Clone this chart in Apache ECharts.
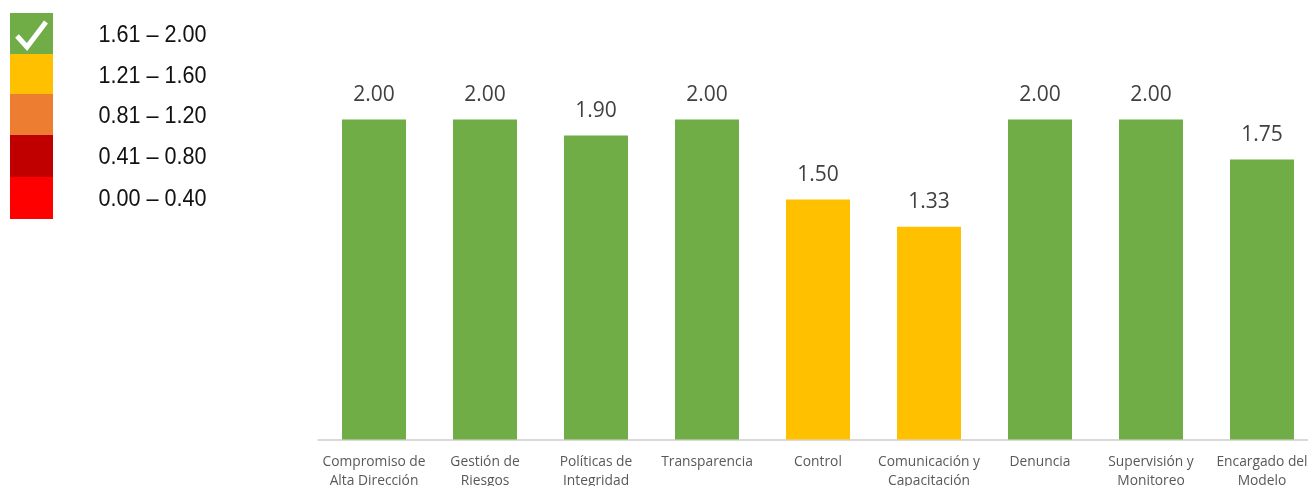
<!DOCTYPE html>
<html>
<head>
<meta charset="utf-8">
<style>
  html, body { margin: 0; padding: 0; background: #fff; }
  #chart { width: 1308px; height: 486px; }
</style>
<script src="https://cdn.jsdelivr.net/npm/echarts@6/dist/echarts.min.js"></script>
</head>
<body>
<div id="chart"></div>
<script>
const categories = [
  "Compromiso de\nAlta Dirección", "Gestión de\nRiesgos", "Políticas de\nIntegridad",
  "Transparencia", "Control", "Comunicación y\nCapacitación",
  "Denuncia", "Supervisión y\nMonitoreo", "Encargado del\nModelo"
];
const scores = [2.0, 2.0, 1.9, 2.0, 1.5, 1.33, 2.0, 2.0, 1.75];

const rangeLabels = ["1.61 – 2.00", "1.21 – 1.60", "0.81 – 1.20", "0.41 – 0.80", "0.00 – 0.40"];
const rangeFloors = [1.61, 1.21, 0.81, 0.41, 0];
const rangeColors = ["#70AD47", "#FFC000", "#ED7D31", "#C00000", "#FF0000"];

// legend block edges, the rows are not quite even in the original
const swatchEdges = [13, 54, 94, 135, 177, 219];
const labelY = [35, 76, 116, 157, 199];

const colorFor = (v) => rangeColors[rangeFloors.findIndex((f) => v >= f)];

const myChart = echarts.init(document.getElementById("chart"));

let legend = [];
rangeLabels.forEach((txt, i) => {
  legend.push({
    type: "rect",
    shape: { x: 10, y: swatchEdges[i], width: 43, height: swatchEdges[i + 1] - swatchEdges[i] },
    style: { fill: rangeColors[i] },
  });
  legend.push({
    type: "text",
    x: 98.5,
    y: labelY[i],
    scaleX: 0.9,
    style: {
      text: txt,
      fill: "#111",
      font: '24px "Liberation Sans"',
      textVerticalAlign: "middle",
    },
  });
});
// check mark on the green block
legend.push({
  type: "polyline",
  shape: { points: [[17, 36], [27, 47], [46, 22]] },
  style: { stroke: "#fff", lineWidth: 5, fill: null },
  z: 10,
});

const option = {
  animation: false,
  // the chart runs past the right edge of the picture, as in the original crop
  grid: { left: 318.5, right: -9.5, top: 119.5, bottom: 46.5, outerBoundsMode: "none" },
  xAxis: {
    type: "category",
    data: categories,
    axisLine: { lineStyle: { color: "#D9D9D9", width: 2 } },
    axisTick: { show: false },
    axisLabel: {
      interval: 0,
      margin: 13,
      color: "#595959",
      fontFamily: "Open Sans",
      fontSize: 13.8,
      lineHeight: 19,
      verticalAlign: "top",
    },
  },
  yAxis: { type: "value", min: 0, max: 2, show: false },
  series: [
    {
      type: "bar",
      barWidth: 64,
      data: scores.map((v) => ({ value: v, itemStyle: { color: colorFor(v) } })),
      label: {
        show: true,
        position: "top",
        distance: 14,
        color: "#404040",
        fontFamily: "Open Sans",
        fontSize: 21,
        formatter: (p) => p.value.toFixed(2),
      },
    },
  ],
  graphic: legend,
};
myChart.setOption(option);
</script>
</body>
</html>
